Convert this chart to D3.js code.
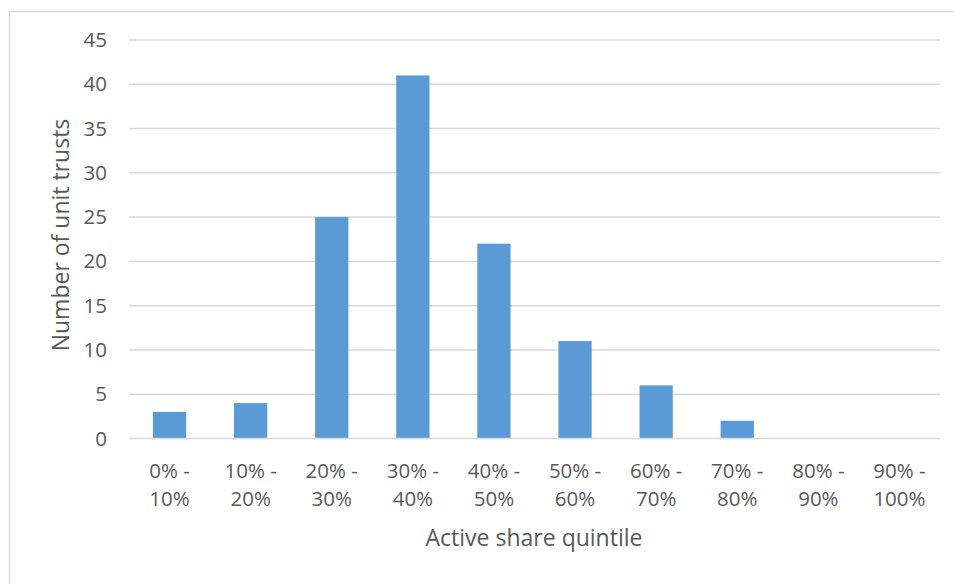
<!DOCTYPE html>
<html>
<head>
<meta charset="utf-8">
<script src="https://cdn.jsdelivr.net/npm/d3@7"></script>
<style>
  html, body { margin: 0; padding: 0; background: #fff; }
  svg { display: block; }
  text { font-family: "Open Sans", "Liberation Sans", sans-serif; fill: #595959; }
</style>
</head>
<body>
<svg id="chart" width="954" height="584"></svg>
<script>
// Active share buckets and the number of unit trusts in each
const categories = ["0% - 10%", "10% - 20%", "20% - 30%", "30% - 40%", "40% - 50%",
                    "50% - 60%", "60% - 70%", "70% - 80%", "80% - 90%", "90% - 100%"];
const counts = [3, 4, 25, 41, 22, 11, 6, 2, 0, 0];
const yTicks = [0, 5, 10, 15, 20, 25, 30, 35, 40, 45];

const svg = d3.select("#chart");
const W = 954, H = 584;
const margin = { left: 129, right: 14, top: 40, bottom: 145.5 };
const plotW = W - margin.left - margin.right;
const plotH = H - margin.top - margin.bottom;
const tickFont = 20.5, titleFont = 23;

// chart frame
svg.append("rect")
  .attr("x", 9.5).attr("y", 11.5)
  .attr("width", W + 10).attr("height", H + 10)
  .attr("fill", "#fff").attr("stroke", "#d9d9d9").attr("stroke-width", 1.5);

const x = d3.scaleBand().domain(categories).range([0, plotW]).paddingInner(0.59).paddingOuter(0.295);
const y = d3.scaleLinear().domain([0, 45]).range([plotH, 0]);

const g = svg.append("g").attr("transform", `translate(${margin.left},${margin.top})`);

// horizontal gridlines
g.append("g")
  .selectAll("line")
  .data(yTicks.filter(d => d > 0))
  .join("line")
  .attr("x1", 0).attr("x2", plotW)
  .attr("y1", d => y(d)).attr("y2", d => y(d))
  .attr("stroke", "#d9d9d9").attr("stroke-width", 1.5);

// bars
g.append("g")
  .selectAll("rect")
  .data(counts)
  .join("rect")
  .attr("x", (d, i) => x(categories[i]))
  .attr("y", d => y(d))
  .attr("width", x.bandwidth())
  .attr("height", d => plotH - y(d))
  .attr("fill", "#5b9bd5");

// baseline
g.append("line")
  .attr("x1", 0).attr("x2", plotW)
  .attr("y1", plotH).attr("y2", plotH)
  .attr("stroke", "#d9d9d9").attr("stroke-width", 1.5);

// y axis labels
const yAxis = d3.axisLeft(y).tickValues(yTicks).tickSize(0).tickPadding(22);
const yg = g.append("g").call(yAxis);
yg.select(".domain").remove();
yg.selectAll("text").attr("font-size", tickFont).attr("fill", "#595959")
  .style("font-family", "'Open Sans', sans-serif");

// x axis labels (two lines each)
const xAxis = d3.axisBottom(x).tickSize(0).tickFormat("");
const xg = g.append("g").attr("transform", `translate(0,${plotH})`).call(xAxis);
xg.select(".domain").remove();
xg.selectAll(".tick").each(function(d) {
  const parts = d.split(" - ");
  const t = d3.select(this).append("text")
    .attr("text-anchor", "middle")
    .attr("font-size", tickFont)
    .attr("fill", "#595959");
  t.append("tspan").attr("x", 0).attr("y", 39).text(parts[0] + " -");
  t.append("tspan").attr("x", 0).attr("y", 67).text(parts[1]);
});

// axis titles
svg.append("text")
  .attr("x", 534)
  .attr("y", 546)
  .attr("text-anchor", "middle")
  .attr("font-size", titleFont)
  .text("Active share quintile");

svg.append("text")
  .attr("transform", `translate(69,235) rotate(-90)`)
  .attr("text-anchor", "middle")
  .attr("font-size", titleFont)
  .text("Number of unit trusts");
</script>
</body>
</html>
